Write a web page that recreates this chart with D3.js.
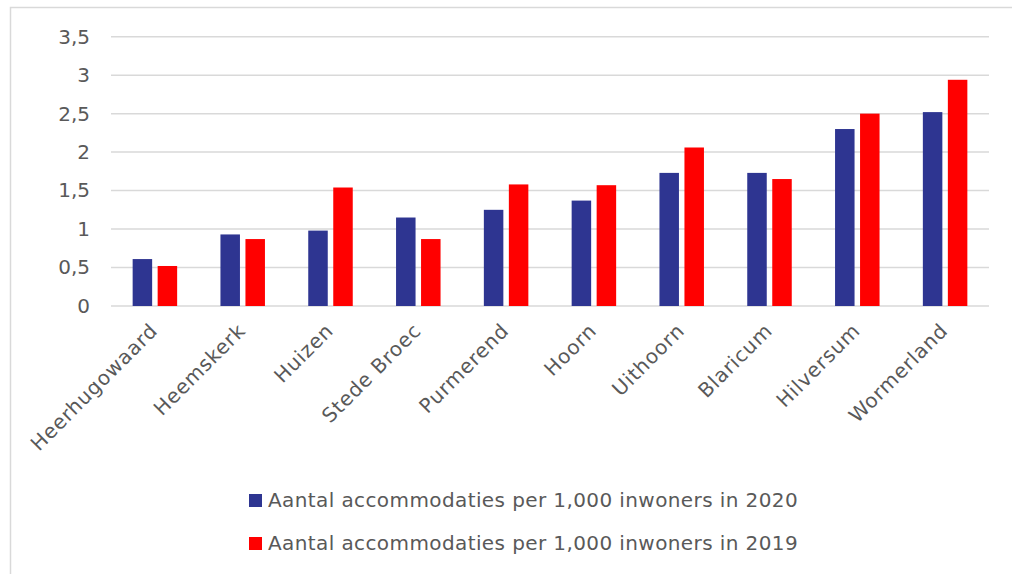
<!DOCTYPE html>
<html>
<head>
<meta charset="utf-8">
<script src="https://cdn.jsdelivr.net/npm/d3@7"></script>
<style>
  html, body { margin: 0; padding: 0; background: #fff; }
  svg { display: block; font-family: "DejaVu Sans", "Noto Sans", sans-serif; }
</style>
</head>
<body>
<svg id="chart" width="1012" height="574"></svg>
<script>
// Gemeenten, gesorteerd op aantal accommodaties in 2020
const categories = ["Heerhugowaard", "Heemskerk", "Huizen", "Stede Broec", "Purmerend",
                    "Hoorn", "Uithoorn", "Blaricum", "Hilversum", "Wormerland"];
const values2020 = [0.61, 0.93, 0.98, 1.15, 1.25, 1.37, 1.73, 1.73, 2.30, 2.52];
const values2019 = [0.52, 0.87, 1.54, 0.87, 1.58, 1.57, 2.06, 1.65, 2.50, 2.94];
const yTicks = [0, 0.5, 1, 1.5, 2, 2.5, 3, 3.5];
const seriesNames = ["Aantal accommodaties per 1,000 inwoners in 2020",
                     "Aantal accommodaties per 1,000 inwoners in 2019"];
const seriesColors = ["#2E3591", "#FF0000"];

const svg = d3.select("#chart");
const textColor = "#595959";
const gridColor = "#D9D9D9";

// outer frame
svg.append("rect")
  .attr("x", 10.5).attr("y", 7.5)
  .attr("width", 1010).attr("height", 580)
  .attr("fill", "none").attr("stroke", gridColor).attr("stroke-width", 1.5);

const plot = { left: 111, right: 989, top: 36.7, bottom: 306 };

const x = d3.scaleBand().domain(categories).range([plot.left, plot.right]).paddingInner(0).paddingOuter(0);
const y = d3.scaleLinear().domain([0, 3.5]).range([plot.bottom, plot.top]);

// horizontal gridlines
svg.append("g").selectAll("line").data(yTicks).join("line")
  .attr("x1", plot.left).attr("x2", plot.right)
  .attr("y1", d => y(d)).attr("y2", d => y(d))
  .attr("stroke", gridColor).attr("stroke-width", 1.5);

// y axis labels
const fmt = d => String(d).replace(".", ",");
const yAxis = d3.axisLeft(y).tickValues(yTicks).tickFormat(fmt).tickSize(0).tickPadding(0);
const yg = svg.append("g").attr("transform", `translate(${plot.left - 21},0)`).call(yAxis);
yg.select(".domain").remove();
yg.selectAll("text").attr("fill", textColor).attr("font-size", 20)
  .attr("font-family", "DejaVu Sans, sans-serif");

// bars
const barW = 19.5, gap = 5.5;
const series = [values2020, values2019];
series.forEach((vals, si) => {
  svg.append("g").selectAll("rect").data(vals).join("rect")
    .attr("x", (d, i) => x(categories[i]) + x.bandwidth() / 2 + (si === 0 ? -(gap / 2 + barW) : gap / 2))
    .attr("y", d => y(d))
    .attr("width", barW)
    .attr("height", d => y(0) - y(d))
    .attr("fill", seriesColors[si]);
});

// category labels, rotated
const xAxis = d3.axisBottom(x).tickSize(0).tickPadding(0);
const xg = svg.append("g").attr("transform", `translate(0,${plot.bottom})`).call(xAxis);
xg.select(".domain").remove();
xg.selectAll("text")
  .attr("fill", textColor).attr("font-size", 20)
  .attr("letter-spacing", 0.8)
  .attr("font-family", "DejaVu Sans, sans-serif")
  .attr("text-anchor", "end")
  .attr("dy", null).attr("y", 0)
  .attr("transform", "translate(4,26) rotate(-45)");

// legend
const legend = svg.append("g");
seriesNames.forEach((name, i) => {
  const base = 507 + i * 43;
  legend.append("rect").attr("x", 249).attr("y", base - 13).attr("width", 13).attr("height", 13)
    .attr("fill", seriesColors[i]);
  legend.append("text").attr("x", 268).attr("y", base)
    .attr("fill", textColor).attr("font-size", 20).attr("letter-spacing", 0.4).text(name);
});
</script>
</body>
</html>
